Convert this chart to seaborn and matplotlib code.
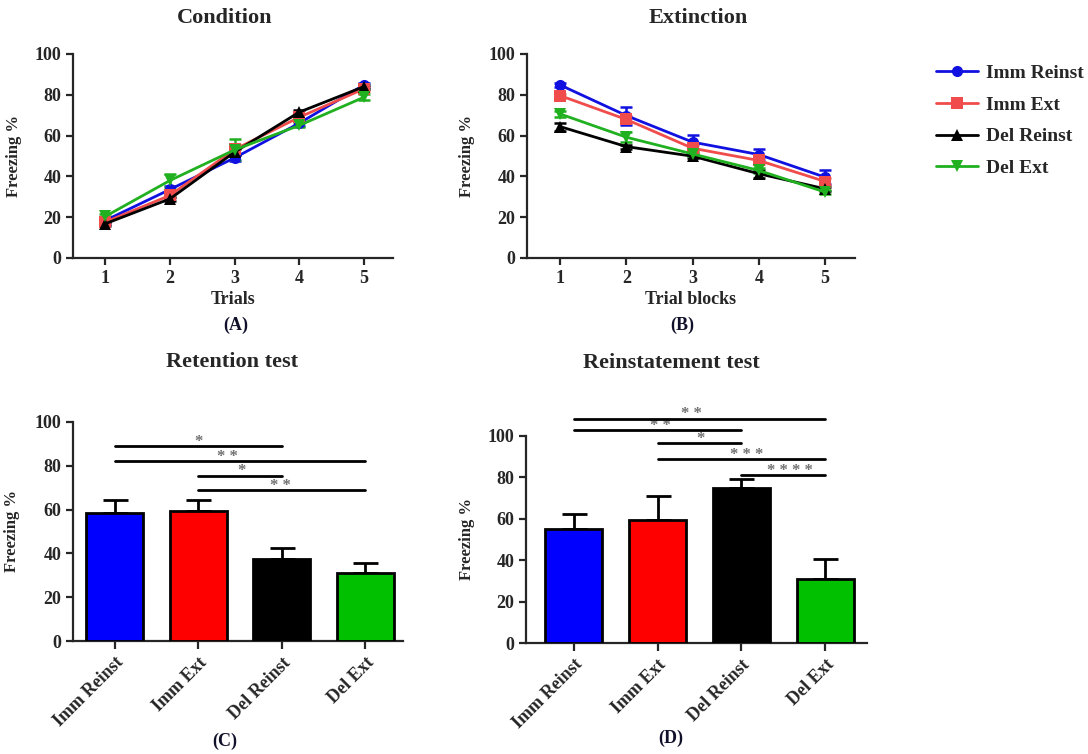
import numpy as np
import pandas as pd
import matplotlib
matplotlib.use("Agg")
import matplotlib.pyplot as plt
import seaborn as sns

# ---- data ----
groups = ["Imm Reinst", "Imm Ext", "Del Reinst", "Del Ext"]
trials = [1, 2, 3, 4, 5]

cond_imm_reinst = [18.4, 33.6, 49.1, 66.1, 84.8]
cond_imm_ext = [17.6, 30.7, 53.2, 69.0, 82.9]
cond_del_reinst = [16.8, 29.0, 51.9, 71.5, 84.0]
cond_del_ext = [20.4, 38.0, 53.0, 65.0, 78.8]
cond_err_imm_reinst = [1.5, 1.5, 1.5, 1.5, 1.0]
cond_err_imm_ext = [1.0, 1.5, 2.0, 1.5, 1.0]
cond_err_del_reinst = [1.0, 1.0, 1.5, 1.0, 1.0]
cond_err_del_ext = [1.0, 3.2, 5.2, 1.0, 1.5]

ext_imm_reinst = [84.8, 69.8, 56.8, 50.7, 39.6]
ext_imm_ext = [79.6, 67.9, 53.8, 47.8, 37.5]
ext_del_reinst = [64.4, 54.6, 49.9, 41.3, 33.9]
ext_del_ext = [70.6, 59.2, 51.0, 42.9, 32.3]
ext_err_imm_reinst = [1.0, 4.4, 3.3, 2.5, 3.5]
ext_err_imm_ext = [1.0, 1.5, 1.5, 1.5, 1.5]
ext_err_del_reinst = [2.0, 1.0, 1.0, 2.0, 1.0]
ext_err_del_ext = [1.5, 2.5, 1.0, 1.0, 1.0]

ret_mean = [58.4, 59.4, 37.3, 31.0]
ret_err = [6.1, 5.1, 5.0, 4.6]
# (from bar, to bar, height, stars, star x position)
ret_sig = [(0, 2, 88.9, "*", 1.0), (0, 3, 82.2, "**", 1.35),
           (1, 2, 75.5, "*", 1.52), (1, 3, 69.0, "**", 1.98)]

rein_mean = [55.0, 59.4, 75.0, 31.0]
rein_err = [7.1, 11.6, 4.0, 9.5]
rein_sig = [(0, 3, 108.4, "**", 1.40), (0, 2, 102.7, "**", 1.03), (1, 2, 96.5, "*", 1.51),
            (1, 3, 88.7, "***", 2.06), (2, 3, 81.0, "****", 2.58)]

line_colors = ["#1010e0", "#f04c4c", "#000000", "#20b020"]
bar_colors = ["#0000ff", "#ff0000", "#000000", "#00c000"]
markers = ["o", "s", "^", "v"]

sns.set_style("ticks")
plt.rcParams["font.family"] = ["Liberation Serif", "DejaVu Serif"]
plt.rcParams["font.weight"] = "bold"
plt.rcParams["axes.labelweight"] = "bold"
plt.rcParams["axes.linewidth"] = 1.6
plt.rcParams["xtick.major.width"] = 1.6
plt.rcParams["ytick.major.width"] = 1.6
plt.rcParams["xtick.major.size"] = 5
plt.rcParams["ytick.major.size"] = 5
plt.rcParams["xtick.labelsize"] = 13
plt.rcParams["ytick.labelsize"] = 13

fig = plt.figure(figsize=(10.88, 7.54), dpi=100)
W, H = 1088.0, 754.0


def px_axes(l, r, t, b):
    return fig.add_axes([l / W, 1 - b / H, (r - l) / W, (b - t) / H])


def fig_text(x, y, s, size, **kw):
    fig.text(x / W, 1 - y / H, s, ha="center", va="center", fontsize=size,
             fontweight="bold", **kw)


def line_panel(ax, means, errs, xlabel):
    df = pd.DataFrame({
        "x": trials * 4,
        "y": sum(means, []),
        "group": sum([[g] * 5 for g in groups], []),
    })
    for i, g in enumerate(groups):
        ax.errorbar(trials, means[i], yerr=errs[i], fmt="none", ecolor=line_colors[i],
                    elinewidth=1.8, capsize=4, capthick=1.8, zorder=2)
    sns.lineplot(data=df, x="x", y="y", hue="group", style="group", hue_order=groups,
                 style_order=groups, palette=line_colors, markers=markers, dashes=False,
                 markersize=8, markeredgewidth=0, linewidth=2, ax=ax, legend=False,
                 zorder=3)
    ax.set_xlim(0.5, 5.45)
    ax.set_ylim(0, 100)
    ax.set_xticks(trials)
    ax.set_yticks(range(0, 101, 20))
    ax.set_xlabel(xlabel, fontsize=13, labelpad=3)
    ax.set_ylabel("Freezing %", fontsize=12)
    sns.despine(ax=ax)


def bar_panel(ax, means, errs, sig):
    sns.barplot(x=groups, y=means, hue=groups, palette=bar_colors, legend=False,
                width=0.68, edgecolor="black", linewidth=2, saturation=1, ax=ax, zorder=3)
    ax.errorbar(range(4), means, yerr=[np.zeros(4), errs], fmt="none", ecolor="black",
                elinewidth=2, capsize=9, capthick=2, zorder=2)
    for a, b, y, s, sx in sig:
        ax.plot([a, b], [y, y], color="black", lw=2, clip_on=False, zorder=4)
        ax.annotate(" ".join(s), xy=(sx, y), xytext=(0, 3),
                    textcoords="offset points", ha="center", va="center",
                    fontsize=12, color="#707070", annotation_clip=False)
    ax.set_ylim(0, 100)
    ax.set_yticks(range(0, 101, 20))
    ax.set_ylabel("Freezing %", fontsize=12)
    ax.set_xlabel("")
    ax.tick_params(axis="x", length=6)
    plt.setp(ax.get_xticklabels(), rotation=45, ha="right", rotation_mode="anchor",
             fontsize=13)
    sns.despine(ax=ax)


# (A) Condition
axA = px_axes(73, 393, 54, 258)
line_panel(axA, [cond_imm_reinst, cond_imm_ext, cond_del_reinst, cond_del_ext],
           [cond_err_imm_reinst, cond_err_imm_ext, cond_err_del_reinst, cond_err_del_ext],
           "Trials")
axA.yaxis.set_label_coords(-0.16, 0.5)

# (B) Extinction
axB = px_axes(527, 855, 54, 258)
line_panel(axB, [ext_imm_reinst, ext_imm_ext, ext_del_reinst, ext_del_ext],
           [ext_err_imm_reinst, ext_err_imm_ext, ext_err_del_reinst, ext_err_del_ext],
           "Trial blocks")
axB.yaxis.set_label_coords(-0.16, 0.5)

# (C) Retention test
axC = px_axes(73, 403, 422, 641)
bar_panel(axC, ret_mean, ret_err, ret_sig)
axC.set_xlim(-0.5, 3.45)
axC.yaxis.set_label_coords(-0.16, 0.5)

# (D) Reinstatement test
axD = px_axes(526, 867, 436, 643)
bar_panel(axD, rein_mean, rein_err, rein_sig)
axD.set_xlim(-0.57, 3.5)
axD.yaxis.set_label_coords(-0.15, 0.5)

# titles and panel letters
fig_text(225, 18, "Condition", 16)
fig_text(698, 18, "Extinction", 16)
fig_text(232, 362, "Retention test", 16)
fig_text(671, 363, "Reinstatement test", 16)
fig_text(236, 325, "(A)", 13, color="#10102a")
fig_text(682, 325, "(B)", 13, color="#10102a")
fig_text(225, 741, "(C)", 13, color="#10102a")
fig_text(671, 738, "(D)", 13, color="#10102a")

# legend
handles = [plt.Line2D([], [], color=c, marker=m, lw=2, markersize=8, markeredgewidth=0)
           for c, m in zip(line_colors, markers)]
fig.legend(handles, groups, loc="upper left", bbox_to_anchor=(918 / W, 1 - 47 / H),
           frameon=False, handlelength=2.2, labelspacing=0.72,
           handletextpad=0.4, prop={"weight": "bold", "size": 14})

fig.savefig("out.png", dpi=100)
